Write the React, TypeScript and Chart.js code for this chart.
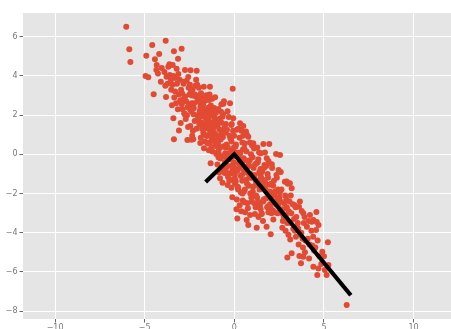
import React, { useEffect, useRef } from "react";
import { Chart, registerables } from "chart.js";

Chart.register(...registerables);

// Tick positions
const xTickValues = [-10, -5, 0, 5, 10];
const yTickValues = [-8, -6, -4, -2, 0, 2, 4, 6];
const xLimits = [-11.79, 12.09];
const yLimits = [-8.4, 7.21];

// Principal axis vectors drawn from the origin
const axisLineX = [-1.6, 0, 6.5];
const axisLineY = [-1.41, 0, -7.19];

// Sample points [x, y]
const samplePoints: [number, number][] = [
  [-6.03, 6.51], [-5.86, 5.36], [-5.8, 4.71], [-4.91, 5.03], [-4.95, 4.0], [-4.8, 3.93], [-4.58, 5.58], [-4.5, 3.06],
  [-4.43, 4.85], [-4.33, 4.56], [-4.26, 4.13], [-4.19, 5.12], [-4.35, 4.3], [-4.05, 4.4], [-4.1, 3.7],
  [-3.83, 5.8], [-3.78, 3.96], [-3.68, 4.47], [-3.81, 2.93], [-3.9, 4.2], [-3.6, 4.05], [-3.72, 3.6], [-3.55, 3.75], [-3.62, 4.6], [-3.52, 3.3], [-3.85, 3.5],
  [-3.44, 4.56], [-3.37, 5.26], [-3.4, 1.84], [-3.37, 0.77], [-3.22, 4.37], [-3.14, 4.88], [-3.09, 1.21], [-3.45, 3.55], [-3.3, 3.2], [-3.2, 3.6],
  [-3.35, 2.9], [-3.1, 3.05], [-3.25, 2.6], [-3.05, 3.8], [-3.4, 4.0], [-3.15, 2.3], [-3.02, 2.75], [-3.48, 2.5], [-3.3, 3.9], [-3.12, 4.1],
  [-2.94, 5.39], [-2.75, 4.3], [-2.62, 0.73], [-2.55, 3.4], [-2.91, 3.1], [-2.68, 2.7], [-2.83, 3.6], [-2.97, 3.3], [-2.6, 2.4], [-2.79, 2.1],
  [-2.87, 2.8], [-2.52, 2.5], [-2.71, 1.8], [-2.64, 2.0], [-2.93, 2.55], [-2.57, 3.95], [-2.85, 3.7], [-2.66, 3.75], [-2.99, 1.6], [-2.74, 2.95],
  [-2.5, 3.05], [-2.89, 2.3], [-2.77, 2.05], [-2.58, 1.4],
  [-2.44, 4.29], [-2.29, 0.77], [-2.1, 4.27], [-2.18, 3.5], [-2.42, 3.2], [-2.05, 2.9], [-2.33, 3.3], [-2.24, 2.6], [-2.47, 2.3], [-2.08, 2.0],
  [-2.38, 2.6], [-2.16, 2.95], [-2.28, 2.05], [-2.02, 1.75], [-2.45, 1.45], [-2.21, 1.7], [-2.36, 3.0], [-2.13, 3.8], [-2.48, 3.55], [-2.26, 2.35],
  [-2.4, 2.2], [-2.11, 1.3], [-2.31, 1.2], [-2.04, 2.75], [-2.19, 3.05], [-2.35, 0.95], [-2.07, 3.55], [-2.4, 0.75],
  [-1.98, 3.4], [-1.91, 2.62], [-1.84, 1.95], [-1.77, 2.88], [-1.71, 1.42], [-1.66, 2.31], [-1.59, 0.98], [-1.53, 1.77], [-1.95, 1.52], [-1.87, 0.84],
  [-1.79, 2.18], [-1.69, 0.31], [-1.62, 2.74], [-1.56, 3.02], [-1.93, 2.21], [-1.82, 1.63], [-1.73, 1.09], [-1.51, 2.27], [-1.67, 1.91], [-1.96, 2.95],
  [-1.86, 3.12], [-1.74, 2.57], [-1.55, 1.33], [-1.64, 0.66], [-1.52, 0.93], [-1.99, 1.81], [-1.61, 2.05], [-1.9, 0.58], [-1.7, 3.45], [-1.8, 1.3],
  [-1.58, 1.52], [-1.89, 2.41],
  [-1.36, 3.45], [-1.32, -0.46], [-1.47, 2.38], [-1.43, 1.71], [-1.39, 2.02], [-1.34, 1.18], [-1.29, 1.62], [-1.24, 0.81], [-1.21, 2.13], [-1.16, 1.37],
  [-1.11, 1.88], [-1.06, 1.03], [-1.46, 0.97], [-1.37, 0.62], [-1.27, 0.37], [-1.19, 0.93], [-1.09, 0.66], [-1.41, 2.77], [-1.31, 2.49], [-1.23, 2.83],
  [-1.13, 2.36], [-1.03, 2.11], [-1.49, 1.33], [-1.35, 1.96], [-1.26, 1.41], [-1.14, 1.12], [-1.04, 0.43], [-1.42, 0.21], [-1.22, 0.14], [-1.08, 1.52],
  [-1.48, 0.55], [-1.33, 0.99], [-1.01, 1.72], [-1.28, 2.21], [-1.17, 1.63], [-1.38, 3.05], [-1.07, 2.91], [-1.44, 1.58], [-1.0, 0.02],
  [-0.95, 1.46], [-0.61, 2.58], [-0.86, 0.27], [-0.74, 2.17], [-0.91, 0.58], [-0.56, 1.22], [-0.81, 1.83], [-0.64, 0.87], [-0.71, 1.61], [-0.96, 0.68],
  [-0.59, 0.41], [-0.89, 2.31], [-0.76, -0.21], [-0.84, 1.28], [-0.69, 0.97], [-0.8, -1.22], [-0.54, 1.37], [-0.66, 1.92], [-0.98, 0.08], [-0.88, -0.16],
  [-0.57, -0.57], [-0.77, 0.36], [-0.67, -0.83], [-0.52, -0.41], [-0.93, 0.84], [-0.63, 2.04], [-0.83, 1.72], [-0.73, 1.08], [-0.51, 0.06], [-0.94, -0.52],
  [-0.85, -0.93], [-0.72, 2.55], [-0.58, 2.71], [-0.66, -1.45], [-0.9, 1.67], [-0.76, 0.76], [-0.54, -0.95], [-0.99, 0.91], [-0.62, -0.1], [-0.87, 0.05],
  [-0.09, 3.35], [-0.24, 2.6], [-0.06, 1.84], [-0.37, -1.56], [-0.11, -2.19], [-0.48, 1.1], [-0.21, 0.8], [-0.43, 0.5], [-0.13, 0.2], [-0.33, -0.1],
  [-0.04, -0.4], [-0.46, -0.7], [-0.27, -1.0], [-0.17, 1.5], [-0.39, -0.25], [-0.02, 0.35], [-0.3, 0.05], [-0.45, -0.55], [-0.12, -0.85], [-0.35, -1.15],
  [-0.08, -1.3], [-0.49, 0.35], [-0.19, -0.6], [-0.41, 1.25], [-0.26, 0.95], [-0.15, 0.65], [-0.36, 0.35], [-0.03, 0.05], [-0.23, -0.25], [-0.44, -0.15],
  [-0.31, 1.9], [-0.07, 1.2], [-0.47, 1.55], [-0.2, 0.8], [-0.01, 0.95], [-0.28, -1.35], [-0.16, -1.7], [-0.4, -0.95], [-0.05, -0.6], [-0.38, 2.2],
  [-0.14, 1.55], [-0.22, -0.2],
  [0.17, -3.27], [0.32, 1.58], [0.05, 0.1], [0.27, -0.2], [0.41, -0.5], [0.12, -0.8], [0.36, -1.1], [0.08, -1.4], [0.22, -1.7], [0.46, -2.0],
  [0.14, -2.3], [0.31, -0.7], [0.03, -1.05], [0.44, -1.35], [0.19, -1.65], [0.37, -1.95], [0.09, 0.5], [0.29, 0.85], [0.48, 0.25], [0.02, -0.1],
  [0.24, -0.45], [0.11, -0.75], [0.43, -1.05], [0.34, -0.5], [0.16, -0.85], [0.49, 0.95], [0.07, 0.4], [0.26, 0.1], [0.39, 1.2], [0.21, -1.8],
  [0.47, -2.35], [0.3, -2.6], [0.04, -1.5], [0.38, -2.9], [0.13, 1.25], [0.45, 0.6], [0.23, 1.3], [0.12, -2.8], [0.33, 0.05], [0.06, -1.3],
  [0.5, 1.45], [0.65, 1.16], [0.78, 0.9], [0.69, -3.35], [0.78, -3.61], [0.6, -2.96], [0.87, 0.6], [0.56, 0.3], [0.93, 0.0], [0.62, -0.3],
  [0.84, -0.6], [0.53, -0.9], [0.97, -1.2], [0.71, -1.5], [0.59, -1.8], [0.91, -1.0], [0.66, -1.3], [0.82, -1.6], [0.54, -1.9], [0.95, -2.2],
  [0.73, -2.5], [0.86, -0.3], [0.61, -0.65], [0.99, 0.45], [0.68, 0.15], [0.52, -0.2], [0.8, -0.55], [0.64, -0.9], [0.89, -2.0], [0.57, -2.45],
  [0.76, -2.75], [0.96, -2.4], [0.7, 1.0], [0.58, 0.55], [0.83, -1.2], [0.94, -1.05], [0.88, -3.1], [0.75, -0.95],
  [1.06, 0.56], [1.25, -3.74], [1.31, -0.4], [1.08, -0.7], [1.44, -1.0], [1.17, -1.3], [1.36, -1.6], [1.03, -1.9], [1.27, -2.2], [1.12, -2.5],
  [1.47, -2.8], [1.21, -1.5], [1.41, -1.8], [1.07, -2.1], [1.33, -2.4], [1.19, -2.7], [1.38, 0.1], [1.02, -0.15], [1.24, -0.45], [1.46, -0.75],
  [1.14, -1.05], [1.29, -1.35], [1.05, -1.65], [1.39, -0.9], [1.16, -0.5], [1.48, 0.05], [1.15, -3.05], [1.35, -3.2], [1.22, -2.1], [1.43, -2.6],
  [1.28, 0.35], [1.1, 0.3], [1.34, -0.25], [1.49, -1.15],
  [1.62, 0.53], [1.95, 0.53], [1.71, 0.09], [1.8, -3.69], [1.88, -1.2], [1.57, -1.5], [1.74, -1.8], [1.93, -2.1], [1.61, -2.4], [1.83, -2.7],
  [1.52, -3.0], [1.69, -1.6], [1.97, -1.9], [1.78, -0.6], [1.55, -0.9], [1.91, -0.35], [1.66, -0.7], [1.86, -1.0], [1.59, -1.3], [1.75, -2.25],
  [1.99, -2.55], [1.64, -2.3], [1.89, -2.65], [1.53, -3.05], [1.81, -0.2], [1.68, -0.55], [1.94, -1.55], [1.72, -1.45], [1.6, -3.4], [1.9, -2.95],
  [2.03, -4.08], [2.18, -3.32], [2.33, 0.02], [2.37, -1.2], [2.06, -1.5], [2.44, -1.8], [2.13, -2.1], [2.29, -2.4], [2.01, -2.7], [2.41, -3.0],
  [2.17, -1.6], [2.26, -1.9], [2.47, -0.8], [2.09, -0.5], [2.35, -1.05], [2.21, -1.35], [2.04, -2.25], [2.32, -2.55], [2.15, -2.85], [2.46, -2.55],
  [2.24, -2.0], [2.11, -0.7], [2.39, -2.2], [2.27, -2.95], [2.07, -3.0],
  [2.55, -0.03], [2.92, -1.39], [2.96, -5.26], [2.84, -2.1], [2.57, -2.4], [2.93, -2.7], [2.66, -3.0], [2.52, -2.2], [2.78, -2.5], [2.61, -2.8],
  [2.88, -3.1], [2.71, -3.4], [2.98, -1.5], [2.63, -1.8], [2.82, -1.4], [2.54, -1.95], [2.76, -3.2], [2.95, -3.5], [2.68, -3.75], [2.86, -3.9],
  [2.73, -2.8], [2.59, -0.9], [2.9, -2.3],
  [3.1, -1.48], [3.2, -1.73], [3.2, -5.05], [3.37, -2.6], [3.04, -2.9], [3.46, -3.2], [3.13, -3.5], [3.29, -3.8], [3.08, -2.4], [3.42, -2.7],
  [3.18, -3.0], [3.33, -3.3], [3.49, -3.7], [3.15, -2.1], [3.02, -4.1], [3.38, -3.9], [3.26, -2.55], [3.44, -4.2], [3.12, -4.35],
  [3.66, -2.41], [3.61, -2.67], [3.85, -3.01], [3.76, -2.89], [3.63, -5.19], [3.72, -5.56], [3.85, -5.22], [3.94, -5.0], [3.88, -3.5], [3.57, -3.8],
  [3.69, -4.1], [3.97, -4.4], [3.81, -4.3], [3.54, -3.5], [3.74, -4.0], [3.92, -3.2], [3.59, -4.6], [3.83, -4.75],
  [4.22, -3.1], [4.32, -3.44], [4.41, -3.35], [4.17, -5.31], [4.41, -5.73], [4.1, -4.3], [4.2, -4.6], [4.3, -3.9], [4.4, -4.2], [4.05, -3.7],
  [4.45, -4.9], [4.15, -3.4], [4.35, -4.65],
  [4.58, -2.94], [4.56, -3.86], [4.63, -6.16], [4.69, -5.82], [4.91, -4.97], [5.15, -6.16], [5.25, -5.65], [5.22, -4.49], [4.6, -3.45], [4.65, -4.4],
  [4.75, -5.2], [4.85, -5.6], [5.05, -5.9], [4.7, -3.6], [5.0, -5.2], [4.52, -4.75],
  [6.27, -7.69],
];

const fmt = (v: number) => (v < 0 ? "\u2212" + Math.abs(v) : String(v));

export default function App() {
  const canvasRef = useRef<HTMLCanvasElement | null>(null);

  useEffect(() => {
    if (!canvasRef.current) return;
    Chart.defaults.font.family = "DejaVu Sans";

    const bgPlugin = {
      id: "plotBg",
      beforeDraw(chart: any) {
        const { ctx, chartArea } = chart;
        ctx.save();
        ctx.fillStyle = "#E5E5E5";
        ctx.fillRect(chartArea.left, chartArea.top, chartArea.right - chartArea.left, chartArea.bottom - chartArea.top);
        ctx.restore();
      },
    };

    const chart = new Chart(canvasRef.current, {
      type: "scatter",
      data: {
        datasets: [
          {
            type: "line",
            data: axisLineX.map((x, i) => ({ x, y: axisLineY[i] })),
            borderColor: "#000000",
            borderWidth: 4.2,
            borderJoinStyle: "miter",
            pointRadius: 0,
            showLine: true,
            fill: false,
            order: 0,
          } as any,
          {
            data: samplePoints.map(([x, y]) => ({ x, y })),
            backgroundColor: "#E24A33",
            borderColor: "#E24A33",
            borderWidth: 0,
            pointRadius: 3,
            order: 1,
          },
        ],
      },
      options: {
        animation: false,
        responsive: false,
        devicePixelRatio: 1,
        layout: { padding: { top: 13, right: 0, left: 0, bottom: 0 } },
        plugins: { legend: { display: false }, tooltip: { enabled: false } },
        scales: {
          x: {
            type: "linear",
            min: xLimits[0],
            max: xLimits[1],
            afterBuildTicks: (scale: any) => {
              scale.ticks = xTickValues.map((v) => ({ value: v }));
            },
            afterFit: (scale: any) => {
              scale.height = 10;
            },
            grid: { color: "#FFFFFF", lineWidth: 1, tickColor: "#666666", tickLength: 3.5, drawTicks: true },
            border: { display: false },
            ticks: { color: "#777777", font: { size: 8 }, padding: 1, callback: (v: any) => fmt(Number(v)), maxRotation: 0, autoSkip: false },
          },
          y: {
            type: "linear",
            min: yLimits[0],
            max: yLimits[1],
            afterBuildTicks: (scale: any) => {
              scale.ticks = yTickValues.map((v) => ({ value: v }));
            },
            afterFit: (scale: any) => {
              scale.width = 23;
            },
            grid: { color: "#FFFFFF", lineWidth: 1, tickColor: "#666666", tickLength: 3.5, drawTicks: true },
            border: { display: false },
            ticks: { color: "#777777", font: { size: 8 }, padding: 2, callback: (v: any) => fmt(Number(v)), autoSkip: false },
          },
        },
      },
      plugins: [bgPlugin],
    });

    return () => chart.destroy();
  }, []);

  return (
    <div style={{ position: "fixed", left: 0, top: 0, width: 451, height: 329, overflow: "hidden", background: "#fff" }}>
      <canvas ref={canvasRef} width={455} height={329} style={{ display: "block" }} />
    </div>
  );
}
